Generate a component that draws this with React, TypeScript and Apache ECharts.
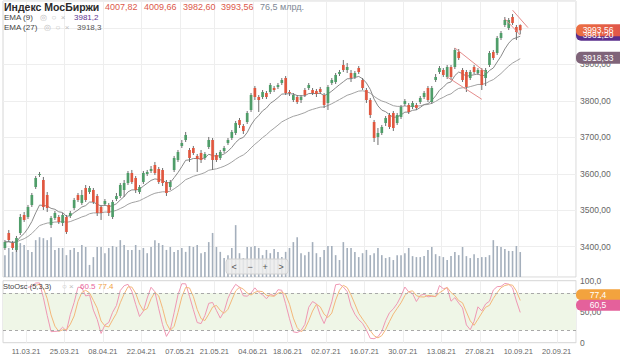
import React, { useEffect, useRef } from "react";
import * as echarts from "echarts";

const FONT = "'Liberation Sans', Arial, sans-serif";

const OPEN = [
  3396.5, 3437.6, 3410.2, 3391.0, 3437.6, 3487.0, 3481.5, 3514.4, 3563.7, 3596.7,
  3582.9, 3541.8, 3459.6, 3478.7, 3481.5, 3465.0, 3481.5, 3484.2, 3506.2, 3541.8,
  3519.9, 3561.0, 3550.0, 3555.5, 3539.1, 3508.9, 3517.1, 3514.4, 3481.5, 3530.8,
  3539.1, 3555.5, 3574.7, 3602.1, 3588.4, 3550.0, 3577.5, 3599.4, 3607.6, 3624.1,
  3613.1, 3610.4, 3577.5, 3563.7, 3610.4, 3637.8, 3676.2, 3692.6, 3665.2, 3670.7,
  3648.8, 3657.0, 3643.3, 3673.4, 3692.6, 3651.5, 3643.3, 3662.5, 3684.4, 3698.1,
  3711.8, 3747.5, 3731.0, 3742.0, 3774.9, 3835.2, 3810.5, 3810.5, 3821.5, 3824.2,
  3835.2, 3838.0, 3848.9, 3862.6, 3824.2, 3802.3, 3810.5, 3802.3, 3829.7, 3835.2,
  3829.7, 3827.0, 3832.5, 3816.0, 3794.1, 3848.9, 3851.7, 3873.6, 3898.3, 3884.6,
  3876.3, 3865.4, 3890.0, 3857.1, 3829.7, 3802.3, 3742.0, 3700.9, 3711.8, 3739.2,
  3761.2, 3766.7, 3739.2, 3755.7, 3791.3, 3788.6, 3783.1, 3788.6, 3796.8, 3810.5,
  3835.2, 3796.8, 3857.1, 3879.1, 3884.6, 3865.4, 3892.8, 3892.8, 3933.9, 3884.6,
  3879.1, 3862.6, 3892.8, 3876.3, 3884.6, 3862.6, 3898.3, 3933.9, 3931.2, 3972.3,
  4008.0, 3999.7, 4029.9, 4002.5, 4007.82,
];
const CLOSE = [
  3412.9, 3418.4, 3396.5, 3423.9, 3481.5, 3473.3, 3508.9, 3541.8, 3588.4, 3599.4,
  3508.9, 3506.2, 3478.7, 3492.5, 3467.8, 3487.0, 3440.4, 3492.5, 3528.1, 3528.1,
  3541.8, 3528.1, 3561.0, 3522.6, 3492.5, 3492.5, 3525.4, 3492.5, 3522.6, 3539.1,
  3569.2, 3574.7, 3602.1, 3577.5, 3555.5, 3563.7, 3602.1, 3604.9, 3613.1, 3602.1,
  3577.5, 3574.7, 3547.3, 3577.5, 3643.3, 3659.7, 3684.4, 3706.3, 3643.3, 3657.0,
  3640.5, 3637.8, 3654.2, 3692.6, 3637.8, 3637.8, 3659.7, 3670.7, 3692.6, 3714.6,
  3739.2, 3733.8, 3717.3, 3766.7, 3816.0, 3810.5, 3802.3, 3824.2, 3810.5, 3843.4,
  3829.7, 3843.4, 3857.1, 3821.5, 3821.5, 3816.0, 3796.8, 3810.5, 3816.0, 3843.4,
  3821.5, 3818.8, 3824.2, 3788.6, 3838.0, 3857.1, 3870.9, 3879.1, 3884.6, 3892.8,
  3862.6, 3876.3, 3879.1, 3835.2, 3802.3, 3761.2, 3698.1, 3711.8, 3728.3, 3752.9,
  3728.3, 3725.5, 3761.2, 3783.1, 3799.6, 3769.4, 3794.1, 3780.4, 3807.8, 3821.5,
  3802.3, 3835.2, 3865.4, 3890.0, 3870.9, 3892.8, 3865.4, 3939.4, 3917.5, 3857.1,
  3838.0, 3879.1, 3879.1, 3884.6, 3843.4, 3884.6, 3931.2, 3917.5, 3972.3, 3986.0,
  4021.7, 4021.7, 4013.4, 3988.8, 3993.56,
];
const LOW = [
  3391.0, 3412.9, 3391.0, 3385.5, 3432.1, 3467.8, 3476.0, 3508.9, 3558.3, 3591.2,
  3500.7, 3495.2, 3451.3, 3473.3, 3462.3, 3456.8, 3434.9, 3478.7, 3500.7, 3522.6,
  3514.4, 3522.6, 3544.6, 3517.1, 3484.2, 3473.3, 3511.6, 3484.2, 3476.0, 3525.4,
  3533.6, 3536.3, 3569.2, 3572.0, 3547.3, 3544.6, 3572.0, 3593.9, 3602.1, 3596.7,
  3572.0, 3566.5, 3539.1, 3555.5, 3604.9, 3632.3, 3670.7, 3687.1, 3632.3, 3651.5,
  3604.9, 3629.6, 3637.8, 3667.9, 3610.4, 3632.3, 3637.8, 3657.0, 3678.9, 3692.6,
  3706.3, 3725.5, 3709.1, 3736.5, 3769.4, 3802.3, 3769.4, 3805.0, 3805.0, 3818.8,
  3824.2, 3832.5, 3843.4, 3816.0, 3813.3, 3796.8, 3791.3, 3794.1, 3810.5, 3829.7,
  3816.0, 3810.5, 3818.8, 3780.4, 3774.9, 3843.4, 3846.2, 3868.1, 3879.1, 3876.3,
  3851.7, 3859.9, 3873.6, 3829.7, 3794.1, 3752.9, 3687.1, 3678.9, 3706.3, 3731.0,
  3722.8, 3717.3, 3733.8, 3750.2, 3785.9, 3763.9, 3777.6, 3774.9, 3791.3, 3805.0,
  3796.8, 3791.3, 3851.7, 3873.6, 3865.4, 3859.9, 3857.1, 3887.3, 3912.0, 3851.7,
  3824.2, 3857.1, 3873.6, 3870.9, 3829.7, 3840.7, 3892.8, 3912.0, 3925.7, 3966.8,
  4002.5, 3994.2, 4008.0, 3966.8, 3982.60,
];
const HIGH = [
  3418.4, 3445.8, 3415.7, 3429.4, 3489.7, 3495.2, 3514.4, 3547.3, 3593.9, 3604.9,
  3591.2, 3550.0, 3484.2, 3497.9, 3487.0, 3492.5, 3487.0, 3497.9, 3533.6, 3547.3,
  3555.5, 3569.2, 3566.5, 3561.0, 3544.6, 3514.4, 3530.8, 3519.9, 3528.1, 3547.3,
  3574.7, 3582.9, 3607.6, 3610.4, 3593.9, 3569.2, 3607.6, 3610.4, 3621.3, 3632.3,
  3618.6, 3615.8, 3582.9, 3582.9, 3648.8, 3665.2, 3692.6, 3714.6, 3670.7, 3676.2,
  3654.2, 3665.2, 3659.7, 3700.9, 3698.1, 3657.0, 3665.2, 3676.2, 3698.1, 3720.0,
  3744.7, 3752.9, 3736.5, 3772.1, 3821.5, 3840.7, 3816.0, 3829.7, 3827.0, 3848.9,
  3840.7, 3848.9, 3862.6, 3868.1, 3829.7, 3821.5, 3816.0, 3816.0, 3835.2, 3848.9,
  3835.2, 3832.5, 3838.0, 3821.5, 3843.4, 3862.6, 3876.3, 3884.6, 3912.0, 3903.8,
  3884.6, 3881.8, 3895.5, 3862.6, 3835.2, 3807.8, 3747.5, 3725.5, 3733.8, 3758.4,
  3766.7, 3772.1, 3766.7, 3788.6, 3805.0, 3794.1, 3799.6, 3794.1, 3813.3, 3827.0,
  3840.7, 3840.7, 3873.6, 3895.5, 3890.0, 3898.3, 3898.3, 3944.9, 3942.1, 3890.0,
  3884.6, 3884.6, 3898.3, 3890.0, 3890.0, 3890.0, 3936.7, 3939.4, 3977.8, 3991.5,
  4029.9, 4027.1, 4038.1, 4008.0, 4009.66,
];
// turnover, bln RUB
const VOLUME = [
  67, 89, 77, 98, 104, 98, 83, 77, 113, 122, 119, 113, 122, 83, 89, 89, 67, 83, 89, 77,
  98, 92, 37, 61, 92, 92, 73, 89, 95, 92, 113, 98, 83, 83, 98, 83, 89, 73, 92, 113,
  104, 98, 83, 92, 77, 83, 89, 77, 95, 92, 98, 73,
  77, 107, 135, 92, 77, 58, 67, 89, 159, 73, 58, 92, 92, 95, 89, 67, 83, 73, 86, 77,
  61, 77, 89, 107, 122, 73, 67, 77, 107, 73, 61, 83, 95, 95, 67, 52, 107, 89, 89, 77,
  61, 73, 83, 67, 73, 89, 67, 58, 61, 52, 67, 67,
  73, 89, 64, 61, 61, 64, 83, 92, 70, 64, 61, 52, 64, 77, 67, 92, 64, 58, 70, 58,
  61, 61, 67, 113, 95, 92, 86, 80, 80, 95, 76.5,
];

const HOLIDAYS = ["08.03.21", "03.05.21", "10.05.21", "14.06.21"];
const FUTURE_DAYS = 14;
const LABEL_DATES = [
  "11.03.21", "25.03.21", "08.04.21", "22.04.21", "07.05.21", "21.05.21", "04.06.21",
  "18.06.21", "02.07.21", "16.07.21", "30.07.21", "13.08.21", "27.08.21", "10.09.21", "20.09.21",
];
const PRICE_TICKS = [3400, 3500, 3600, 3700, 3800, 3900, 4000];
const PRICE_RANGE = [3316.9, 4073.8];
const VOLUME_MAX = 236;
const EMA_PERIODS = [9, 27];
const EMA_LAST = [3981.2, 3918.33];
const STO_PARAMS = [5, 3, 3];
const STO_LAST = [60.5, 77.4];
// user-drawn trend lines: [index1, price1, index2, price2]
const TRENDS = [
  [117, 3945.0, 125, 3878.0],
  [115, 3865.5, 124, 3804.3],
  [132, 4048.7, 136, 4000.9],
  [130, 4025.0, 134, 3980.5],
];

const UP = "#4f9d69";
const DOWN = "#e0573f";
const RED_TXT = "#dc5a4b";

function fmtDate(d: Date) {
  const p = (n: number) => String(n).padStart(2, "0");
  return `${p(d.getDate())}.${p(d.getMonth() + 1)}.${String(d.getFullYear()).slice(2)}`;
}
const CATEGORIES: string[] = (() => {
  const out: string[] = [];
  const d = new Date(2021, 2, 2);
  while (out.length < OPEN.length) {
    const s = fmtDate(d);
    const wd = d.getDay();
    if (wd !== 0 && wd !== 6 && !HOLIDAYS.includes(s)) out.push(s);
    d.setDate(d.getDate() + 1);
  }
  for (let i = 0; i < FUTURE_DAYS; i++) {
    out.push(fmtDate(d));
    d.setDate(d.getDate() + 1);
  }
  return out;
})();

function ema(src: number[], n: number) {
  const k = 2 / (n + 1);
  let e = src[0];
  return src.map((v, i) => (e = i === 0 ? v : v * k + e * (1 - k)));
}
function sma(src: (number | null)[], n: number) {
  return src.map((_, i) => {
    if (i < n - 1) return null;
    let s = 0;
    for (let j = i - n + 1; j <= i; j++) {
      if (src[j] == null) return null;
      s += src[j] as number;
    }
    return s / n;
  });
}
function stochastic() {
  const [p, ks, ds] = STO_PARAMS;
  const raw = CLOSE.map((c, i) => {
    if (i < p - 1) return null;
    const hh = Math.max(...HIGH.slice(i - p + 1, i + 1));
    const ll = Math.min(...LOW.slice(i - p + 1, i + 1));
    return ((c - ll) / (hh - ll)) * 100;
  });
  const k = sma(raw, ks);
  const d = sma(k, ds);
  return [k, d];
}

const comma = (v: number, d: number) => v.toFixed(d).replace(".", ",");

export default function App() {
  const ref = useRef<HTMLDivElement>(null);
  useEffect(() => {
    const el = ref.current!;
    const chart = echarts.init(el, undefined, { renderer: "svg" });
    const labelSet = new Set(LABEL_DATES);
    const isLabel = (i: number) => labelSet.has(CATEGORIES[i]);
    const ema9 = ema(CLOSE, EMA_PERIODS[0]);
    const ema27 = ema(CLOSE, EMA_PERIODS[1]);
    const [stoK, stoD] = stochastic();
    const candleData = OPEN.map((o, i) => [i, o, CLOSE[i], LOW[i], HIGH[i]]);

    const xBase: any = {
      type: "category",
      data: CATEGORIES,
      boundaryGap: true,
      axisLine: { show: false },
      axisTick: { show: false },
    };
    const gridBase = { left: 3, right: 44 };
    const axisLabelStyle = { color: "#666", fontSize: 8.5, fontFamily: FONT, margin: 4 };

    chart.setOption({
      animation: false,
      backgroundColor: "#fff",
      grid: [
        { ...gridBase, top: 1, height: 276, show: true, borderColor: "#d6d6d6", borderWidth: 1 },
        { ...gridBase, top: 200, height: 77 },
        { ...gridBase, top: 280.7, height: 62, show: true, borderColor: "#d6d6d6", borderWidth: 1 },
      ],
      xAxis: [
        { ...xBase, gridIndex: 0, axisLabel: { show: false }, splitLine: { show: true, interval: isLabel, lineStyle: { color: "#eeeeee" } } },
        { ...xBase, gridIndex: 1, axisLabel: { show: false }, splitLine: { show: false } },
        {
          ...xBase,
          gridIndex: 2,
          axisLabel: { show: true, interval: isLabel, color: "#666", fontSize: 7.5, fontFamily: FONT, margin: 5, padding: [0, 4, 0, 0] },
          splitLine: { show: true, interval: isLabel, lineStyle: { color: "#eeeeee" } },
        },
      ],
      yAxis: [
        {
          type: "value",
          gridIndex: 0,
          position: "right",
          min: PRICE_RANGE[0],
          max: PRICE_RANGE[1],
          splitNumber: PRICE_TICKS.length,
          minInterval: PRICE_TICKS[1] - PRICE_TICKS[0],
          maxInterval: PRICE_TICKS[1] - PRICE_TICKS[0],
          axisLine: { show: false },
          axisTick: { show: false },
          splitLine: { show: true, lineStyle: { color: "#eeeeee" } },
          axisLabel: { ...axisLabelStyle, showMinLabel: false, showMaxLabel: false, formatter: (v: number) => comma(v, 2) },
        },
        { type: "value", gridIndex: 1, min: 0, max: VOLUME_MAX, show: false },
        {
          type: "value",
          gridIndex: 2,
          position: "right",
          min: 0,
          max: 100,
          interval: 50,
          axisLine: { show: false },
          axisTick: { show: false },
          splitLine: { show: false },
          axisLabel: { ...axisLabelStyle, formatter: (v: number) => (v === 100 ? "100,0" : v === 50 ? "50,00" : "0") },
        },
      ],
      series: [
        {
          type: "bar",
          xAxisIndex: 1,
          yAxisIndex: 1,
          data: VOLUME,
          barWidth: 1.6,
          itemStyle: { color: "#a4afbc" },
          silent: true,
          z: 1,
        },
        {
          type: "line",
          xAxisIndex: 0,
          yAxisIndex: 0,
          data: ema27,
          showSymbol: false,
          lineStyle: { color: "#a2a2a2", width: 1 },
          silent: true,
          z: 2,
          markLine: {
            silent: true,
            symbol: ["none", "none"],
            label: { show: false },
            lineStyle: { color: "#e58c8c", width: 1, type: "solid" },
            data: TRENDS.map((t) => [{ coord: [t[0], t[1]] }, { coord: [t[2], t[3]] }]),
          },
        },
        {
          type: "line",
          xAxisIndex: 0,
          yAxisIndex: 0,
          data: ema9,
          showSymbol: false,
          lineStyle: { color: "#8a8a8a", width: 1 },
          silent: true,
          z: 2,
        },
        {
          type: "custom",
          xAxisIndex: 0,
          yAxisIndex: 0,
          data: candleData,
          encode: { x: 0, y: [1, 2, 3, 4] },
          clip: true,
          z: 3,
          renderItem: (params: any, api: any) => {
            const i = api.value(0);
            const o = api.value(1);
            const c = api.value(2);
            const l = api.value(3);
            const h = api.value(4);
            const pO = api.coord([i, o]);
            const pC = api.coord([i, c]);
            const pL = api.coord([i, l]);
            const pH = api.coord([i, h]);
            const w = api.size([1, 0])[0] * 0.7;
            const top = Math.min(pO[1], pC[1]);
            const hh = Math.max(Math.abs(pO[1] - pC[1]), 1);
            return {
              type: "group",
              children: [
                { type: "line", shape: { x1: pL[0], y1: pL[1], x2: pH[0], y2: pH[1] }, style: { stroke: "#6e6e6e", lineWidth: 1 } },
                { type: "rect", shape: { x: pO[0] - w / 2, y: top, width: w, height: hh }, style: { fill: c >= o ? UP : DOWN } },
              ],
            };
          },
        },
        {
          type: "line",
          xAxisIndex: 2,
          yAxisIndex: 2,
          data: stoK,
          showSymbol: false,
          lineStyle: { color: "#ef97b3", width: 1 },
          silent: true,
          z: 3,
          markArea: { silent: true, itemStyle: { color: "#eff6e7" }, data: [[{ yAxis: 20 }, { yAxis: 80 }]] },
          markLine: {
            silent: true,
            symbol: ["none", "none"],
            label: { show: false },
            lineStyle: { color: "#a9a9a9", width: 1, type: [3, 3] },
            data: [{ yAxis: 20 }, { yAxis: 80 }],
          },
        },
        {
          type: "line",
          xAxisIndex: 2,
          yAxisIndex: 2,
          data: stoD,
          showSymbol: false,
          lineStyle: { color: "#f3b77a", width: 1 },
          silent: true,
          z: 3,
        },
      ],
    });

    const py = (v: number) => chart.convertToPixel({ yAxisIndex: 0 }, v) as unknown as number;
    const sy = (v: number) => chart.convertToPixel({ yAxisIndex: 2 }, v) as unknown as number;
    const txt = (x: number, y: number, text: string, fill: string, font: string, align = "left") => ({
      type: "text",
      x,
      y,
      z: 101,
      style: { text, fill, font, align, verticalAlign: "middle" },
    });
    const box = (y: number, text: string, fill: any, h = 12) => [
      { type: "rect", z: 100, shape: { x: 576, y: y - h / 2, width: 44, height: h, r: [5, 0, 0, 5] }, style: { fill } },
      txt(598, y, text, "#fff", `8.5px ${FONT}`, "center"),
    ];
    const n = OPEN.length - 1;
    const f9 = `9px ${FONT}`;
    const f8 = `8px ${FONT}`;
    const icon = "#bdbdbd";

    chart.setOption({
      graphic: [
        txt(4, 7, "Индекс МосБиржи", "#2b2b2b", `bold 10.5px ${FONT}`),
        txt(105, 7, comma(OPEN[n], 2), RED_TXT, f9),
        txt(144, 7, comma(HIGH[n], 2), RED_TXT, f9),
        txt(183, 7, comma(LOW[n], 2), RED_TXT, f9),
        txt(221, 7, comma(CLOSE[n], 2), RED_TXT, f9),
        txt(260, 7, `${comma(VOLUME[n], 1)} млрд.`, "#7d8895", f9),
        txt(4, 17, `EMA (${EMA_PERIODS[0]})`, "#444", f8),
        txt(40, 17, "◎  ○  ×", icon, f8),
        txt(74, 17, comma(EMA_LAST[0], 1), "#5b3591", f8),
        txt(4, 27, `EMA (${EMA_PERIODS[1]})`, "#444", f8),
        txt(44, 27, "◎  ○  ×", icon, f8),
        txt(77, 27, comma(EMA_LAST[1], 1), "#555", f8),
        txt(3, 286, `StoOsc (${STO_PARAMS.join(",")})`, "#444", `7.5px ${FONT}`),
        txt(62, 286, "○ ×", icon, f8),
        txt(80, 286, STO_LAST[0].toFixed(1), "#e8659d", f8),
        txt(98, 286, STO_LAST[1].toFixed(1), "#f0a248", f8),
        ...box(py(EMA_LAST[0]), comma(EMA_LAST[0], 2), "#5a2f8c"),
        ...box(py(CLOSE[n]), comma(CLOSE[n], 2),
          new echarts.graphic.LinearGradient(0, 0, 1, 0, [
            { offset: 0, color: "#ec7043" },
            { offset: 1, color: "#e0564a" },
          ])),
        ...box(py(EMA_LAST[1]), comma(EMA_LAST[1], 2), "#7f6479"),
        ...box(sy(STO_LAST[1]), comma(STO_LAST[1], 1), "#f3a33e", 11),
        ...box(sy(STO_LAST[0]), comma(STO_LAST[0], 1), "#e4619b", 11),
        {
          type: "rect",
          z: 100,
          shape: { x: 226, y: 259, width: 62, height: 15, r: 3 },
          style: { fill: "rgba(236,236,236,0.85)", stroke: "#d2d2d2", lineWidth: 1 },
        },
        txt(234, 266.5, "<", "#555", f9, "center"),
        txt(250, 266.5, "−", "#555", f9, "center"),
        txt(265, 266.5, "+", "#555", f9, "center"),
        txt(281, 266.5, ">", "#555", f9, "center"),
      ],
    });

    return () => chart.dispose();
  }, []);
  return <div ref={ref} style={{ position: "absolute", left: 0, top: 0, width: 620, height: 359 }} />;
}
